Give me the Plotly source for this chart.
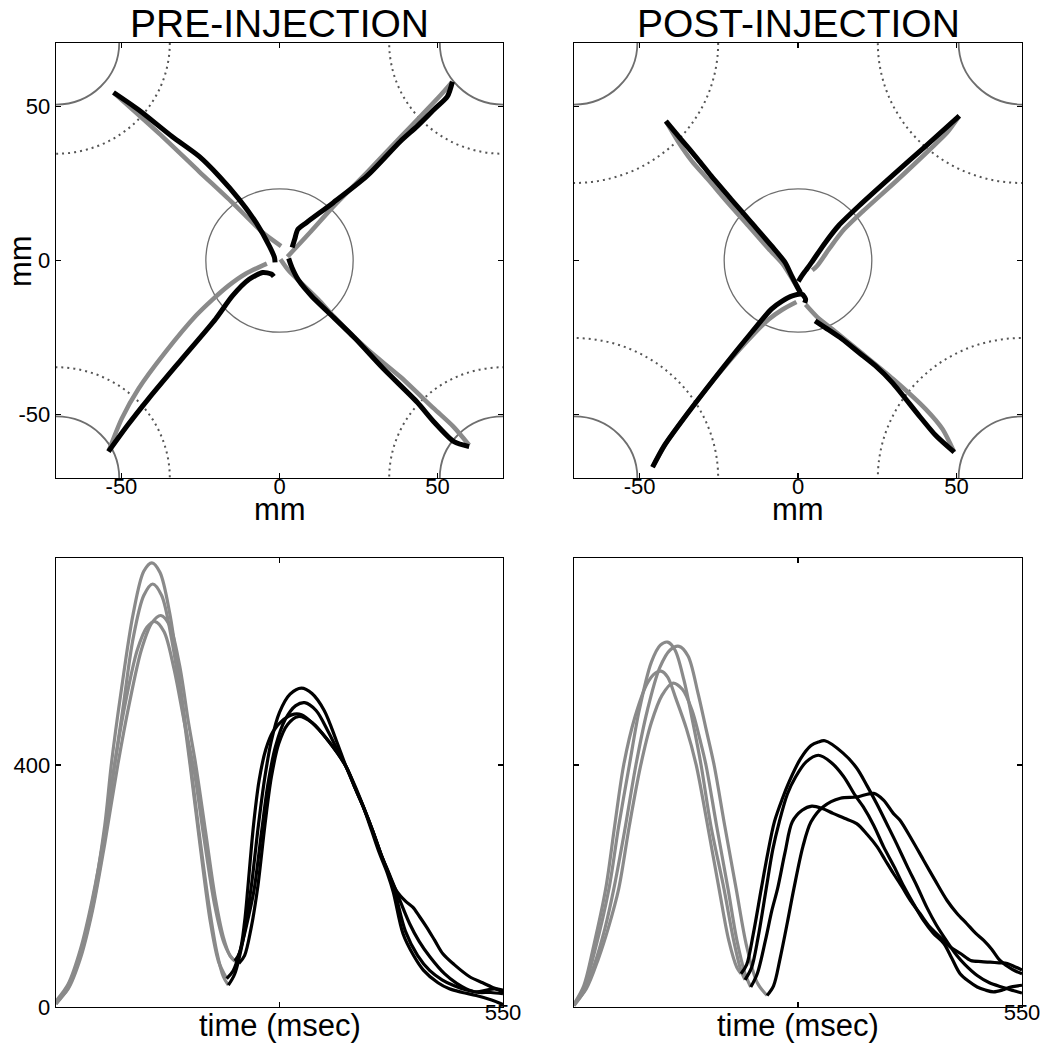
import plotly.graph_objects as go

PAGE_W, PAGE_H = 1050, 1049
OFF = 0   # body margin removed by post_script below
W, H = PAGE_W - 2 * OFF, PAGE_H - 2 * OFF
GRAY = "#8a8a8a"
BLACK = "#000000"
CIRC = "#6e6e6e"
FONT = "Liberation Sans, Arial, sans-serif"

# ---------------- target layout (mm) ----------------
LIM = 70.7
center_radius = 23.3
corner_x = [-70.7, 70.7, -70.7, 70.7]
corner_y = [70.7, 70.7, -70.7, -70.7]
target_radius = 20.0
dotted_radius_pre = 36.0
dotted_radius_post = 45.5

# ---------------- hand trajectories PRE (mm) ----------------
pre_gray_ul_x = [0.5, -5.3, -14.9, -25.5, -38.2, -52.5]
pre_gray_ul_y = [4.7, 9.1, 18.8, 29.0, 41.4, 54.6]
pre_black_ul_x = [-52.5, -44.6, -34.0, -25.5, -19.1, -12.7, -7.4, -3.2, -1.6, -1.4]
pre_black_ul_y = [54.6, 49.0, 40.3, 33.9, 27.4, 19.8, 12.3, 4.7, 1.0, -0.6]

pre_gray_ur_x = [2.5, 10.0, 17.0, 27.7, 38.0, 45.0, 51.0, 54.7]
pre_gray_ur_y = [1.2, 9.5, 17.5, 28.7, 39.8, 47.3, 53.8, 58.1]
pre_black_ur_x = [54.7, 53.1, 48.8, 43.5, 38.2, 27.6, 17.0, 8.5, 5.8, 4.8, 4.0]
pre_black_ur_y = [58.1, 53.3, 49.0, 43.6, 38.7, 27.4, 18.8, 12.3, 10.1, 6.9, 4.2]

pre_gray_lr_x = [0.3, 2.9, 7.1, 12.3, 17.0, 27.6, 38.2, 48.8, 55.0, 60.0]
pre_gray_lr_y = [0.4, -3.3, -7.5, -12.7, -18.0, -28.7, -37.8, -48.1, -54.0, -60.0]
pre_black_lr_x = [60.0, 55.2, 48.8, 43.5, 32.9, 23.8, 15.4, 10.2, 6.0, 3.9, 2.9]
pre_black_lr_y = [-60.5, -58.9, -52.4, -46.0, -35.2, -25.2, -16.8, -11.6, -6.4, -2.2, 0.7]

pre_gray_ll_x = [-4.0, -10.7, -15.9, -21.2, -26.4, -36.1, -44.6, -49.9, -54.1]
pre_gray_ll_y = [-1.0, -4.3, -8.0, -12.7, -17.9, -29.8, -41.7, -51.4, -62.1]
pre_black_ll_x = [-54.1, -48.0, -41.4, -30.8, -20.2, -14.9, -9.6, -5.3, -2.6, -1.8]
pre_black_ll_y = [-62.1, -53.5, -44.9, -31.9, -19.0, -11.5, -6.1, -3.9, -4.4, -5.2]

# ---------------- hand trajectories POST (mm) ----------------
post_gray_ul_x = [0.3, -1.6, -4.8, -9.3, -15.6, -22.0, -28.3, -33.5, -37.8, -41.7]
post_gray_ul_y = [-9.6, -6.4, -1.2, 3.8, 11.2, 18.6, 26.2, 32.3, 38.6, 45.3]
post_black_ul_x = [-41.7, -36.9, -31.6, -27.4, -21.1, -14.7, -8.4, -4.1, -2.0, -0.4, 0.8]
post_black_ul_y = [45.3, 39.4, 32.9, 27.5, 19.9, 12.3, 4.8, -0.6, -5.0, -8.2, -10.5]

post_gray_ur_x = [4.5, 6.0, 10.0, 14.3, 20.7, 31.2, 41.5, 47.0, 50.9]
post_gray_ur_y = [-3.2, -1.8, 4.0, 9.8, 16.2, 26.0, 36.0, 41.5, 47.0]
post_black_ur_x = [50.9, 40.3, 29.7, 19.2, 12.8, 8.6, 4.3, 2.4, 1.2, 0.1]
post_black_ur_y = [47.0, 37.2, 27.5, 17.7, 11.3, 5.8, -0.6, -3.3, -5.0, -6.8]

post_gray_ll_x = [-0.5, -5.0, -9.2, -13.4, -24.0, -34.0, -42.0, -45.9]
post_gray_ll_y = [-13.5, -16.0, -19.1, -23.3, -35.5, -48.5, -60.0, -67.2]
post_black_ll_x = [-45.9, -42.2, -33.8, -23.2, -14.7, -8.4, -5.0, -1.8, 1.3, 2.4, 2.1]
post_black_ll_y = [-67.2, -60.2, -48.3, -34.2, -23.4, -15.8, -13.2, -11.5, -11.0, -12.6, -13.8]

post_gray_lr_x = [2.4, 6.0, 10.7, 20.0, 30.0, 40.3, 45.6, 49.3]
post_gray_lr_y = [-14.3, -18.3, -22.2, -30.0, -38.5, -48.3, -54.8, -62.3]
post_black_lr_x = [49.3, 43.5, 38.2, 29.7, 24.4, 19.2, 13.9, 8.6, 5.4]
post_black_lr_y = [-62.3, -56.9, -50.4, -39.6, -34.2, -29.9, -25.5, -21.8, -19.6]

# ---------------- speed profiles PRE (time msec, speed) ----------------
pre_gray_a_t = [0, 15, 30, 45, 60, 68, 80, 95, 108, 118, 128, 140, 152, 162, 175, 188, 198, 206, 212]
pre_gray_a_v = [5, 35, 90, 175, 300, 400, 520, 650, 720, 734, 718, 650, 540, 440, 300, 170, 90, 50, 36]
pre_black_a_t = [212, 220, 230, 240, 249, 257, 265, 275, 288, 302, 315, 330, 345, 357, 368, 378, 388, 398, 408, 415, 427, 440, 452, 470, 484, 500, 517, 535, 550]
pre_black_a_v = [36, 55, 110, 196, 300, 380, 440, 487, 517, 527, 518, 490, 440, 397, 362, 331, 293, 254, 220, 190, 121, 85, 61, 40, 30, 24, 19, 12, 4]

pre_gray_b_t = [0, 15, 30, 45, 60, 70, 82, 95, 108, 119, 130, 142, 155, 165, 177, 190, 200, 210]
pre_gray_b_v = [5, 32, 85, 165, 280, 380, 490, 610, 680, 699, 680, 610, 500, 400, 270, 140, 75, 47]
pre_black_b_t = [210, 218, 228, 237, 244, 253, 261, 270, 282, 295, 306, 320, 335, 348, 357, 368, 378, 390, 400, 410, 419, 430, 439, 447, 456, 466, 476, 490, 509, 525, 542, 550]
pre_black_b_v = [47, 60, 100, 150, 196, 290, 370, 430, 475, 498, 503, 490, 455, 420, 397, 365, 332, 290, 252, 218, 192, 175, 165, 150, 132, 110, 88, 70, 50, 40, 30, 28]

pre_gray_c_t = [0, 15, 30, 45, 60, 76, 90, 105, 118, 129, 140, 152, 163, 172, 184, 196, 206, 214, 220]
pre_gray_c_v = [8, 30, 80, 160, 270, 400, 500, 590, 635, 647, 630, 565, 470, 400, 290, 180, 115, 85, 76]
pre_black_c_t = [220, 226, 232, 236, 243, 250, 258, 267, 280, 293, 302, 315, 335, 357, 368, 378, 390, 400, 410, 419, 435, 447, 460, 478, 493, 505, 517, 530, 540, 550]
pre_black_c_v = [76, 90, 140, 196, 300, 375, 425, 455, 475, 484, 483, 470, 440, 397, 362, 331, 290, 252, 220, 190, 138, 108, 83, 55, 39, 30, 25, 28, 30, 25]

pre_gray_d_t = [0, 15, 30, 45, 60, 72, 85, 100, 112, 122, 133, 145, 158, 170, 182, 195, 207, 217, 225]
pre_gray_d_v = [10, 38, 95, 180, 290, 400, 500, 590, 628, 637, 620, 560, 470, 390, 280, 170, 105, 80, 72]
pre_black_d_t = [225, 232, 240, 248, 257, 265, 274, 285, 298, 315, 335, 357, 368, 378, 390, 400, 410, 417, 430, 445, 460, 475, 490, 505, 520, 535, 550]
pre_black_d_v = [72, 85, 130, 196, 300, 380, 435, 467, 480, 470, 440, 397, 362, 331, 290, 252, 218, 190, 125, 85, 60, 45, 35, 28, 24, 24, 22]

# ---------------- speed profiles POST ----------------
post_gray_a_t = [0, 12, 24, 39, 50, 61, 75, 90, 100, 107, 115, 125, 138, 150, 164, 178, 190, 200, 205]
post_gray_a_v = [5, 35, 100, 196, 300, 400, 480, 535, 552, 555, 545, 510, 460, 400, 300, 196, 110, 65, 55]
post_black_a_t = [205, 212, 220, 230, 238, 246, 256, 265, 278, 291, 300, 308, 330, 347, 360, 372, 385, 396, 410, 421, 433, 445, 458, 470, 480, 495, 510, 525, 540, 550]
post_black_a_v = [55, 70, 120, 196, 255, 306, 345, 375, 410, 432, 438, 440, 420, 395, 365, 335, 300, 270, 230, 200, 165, 135, 108, 85, 70, 52, 40, 33, 27, 23]

post_gray_b_t = [0, 12, 25, 43, 55, 68, 80, 95, 106, 115, 124, 135, 146, 156, 168, 184, 196, 205, 210]
post_gray_b_v = [3, 30, 90, 196, 300, 400, 490, 570, 598, 603, 590, 540, 470, 400, 300, 196, 110, 60, 45]
post_black_b_t = [210, 218, 226, 236, 244, 252, 262, 272, 285, 300, 315, 331, 345, 355, 368, 380, 393, 405, 417, 429, 441, 454, 464, 474, 485, 495, 505, 515, 526, 536, 545, 550]
post_black_b_v = [45, 65, 115, 196, 260, 306, 352, 380, 405, 416, 405, 381, 350, 331, 300, 265, 232, 199, 170, 143, 122, 105, 80, 55, 42, 33, 28, 25, 28, 33, 35, 36]

post_gray_c_t = [0, 12, 25, 38, 49, 62, 76, 90, 105, 118, 129, 140, 152, 162, 172, 185, 199, 212, 225, 237]
post_gray_c_v = [2, 25, 70, 130, 196, 290, 400, 490, 560, 590, 596, 580, 520, 460, 400, 300, 196, 100, 40, 19]
post_black_c_t = [237, 245, 253, 262, 270, 281, 291, 306, 327, 347, 368, 380, 392, 400, 415, 429, 443, 458, 470, 482, 493, 503, 513, 523, 538, 550]
post_black_c_v = [19, 35, 80, 140, 196, 265, 306, 331, 345, 347, 353, 342, 320, 309, 276, 243, 210, 176, 155, 138, 122, 110, 95, 77, 62, 55]

post_gray_d_t = [0, 15, 30, 42, 55, 68, 82, 95, 108, 121, 133, 145, 155, 162, 175, 189, 200, 210, 217]
post_gray_d_v = [5, 30, 80, 130, 196, 300, 400, 470, 515, 535, 525, 490, 440, 400, 300, 196, 110, 55, 33]
post_black_d_t = [217, 225, 235, 243, 250, 259, 268, 280, 292, 305, 318, 332, 347, 360, 372, 382, 392, 403, 413, 425, 437, 450, 462, 475, 487, 500, 511, 522, 532, 542, 550]
post_black_d_v = [33, 55, 110, 160, 196, 255, 306, 325, 332, 328, 320, 312, 303, 285, 265, 243, 221, 198, 176, 154, 132, 115, 99, 88, 77, 75, 74, 73, 72, 66, 61]

# ---------------- text ----------------
titles = ["PRE-INJECTION", "POST-INJECTION"]
xy_ticks = [-50, 0, 50]
xy_ticktext = ["-50", "0", "50"]
speed_yticks = [0, 400]
time_xticks = [0, 275, 550]
time_xticktext = ["", "", "550"]

fig = go.Figure()

def line(x, y, color, width, xa, ya, smooth=0.7):
    fig.add_trace(go.Scatter(x=x, y=y, mode="lines", xaxis=xa, yaxis=ya,
                             line=dict(color=color, width=width, shape="spline", smoothing=smooth),
                             hoverinfo="skip", showlegend=False))

pre_gray = [(pre_gray_ul_x, pre_gray_ul_y), (pre_gray_ur_x, pre_gray_ur_y),
            (pre_gray_lr_x, pre_gray_lr_y), (pre_gray_ll_x, pre_gray_ll_y)]
pre_black = [(pre_black_ul_x, pre_black_ul_y), (pre_black_ur_x, pre_black_ur_y),
             (pre_black_lr_x, pre_black_lr_y), (pre_black_ll_x, pre_black_ll_y)]
post_gray = [(post_gray_ul_x, post_gray_ul_y), (post_gray_ur_x, post_gray_ur_y),
             (post_gray_lr_x, post_gray_lr_y), (post_gray_ll_x, post_gray_ll_y)]
post_black = [(post_black_ul_x, post_black_ul_y), (post_black_ur_x, post_black_ur_y),
              (post_black_lr_x, post_black_lr_y), (post_black_ll_x, post_black_ll_y)]

for x, y in pre_gray:
    line(x, y, GRAY, 4.5, "x", "y")
for x, y in pre_black:
    line(x, y, BLACK, 5, "x", "y")
for x, y in post_gray:
    line(x, y, GRAY, 4.5, "x2", "y2")
for x, y in post_black:
    line(x, y, BLACK, 5, "x2", "y2")

pre_speed = [(pre_gray_a_t, pre_gray_a_v, pre_black_a_t, pre_black_a_v),
             (pre_gray_b_t, pre_gray_b_v, pre_black_b_t, pre_black_b_v),
             (pre_gray_c_t, pre_gray_c_v, pre_black_c_t, pre_black_c_v),
             (pre_gray_d_t, pre_gray_d_v, pre_black_d_t, pre_black_d_v)]
post_speed = [(post_gray_a_t, post_gray_a_v, post_black_a_t, post_black_a_v),
              (post_gray_b_t, post_gray_b_v, post_black_b_t, post_black_b_v),
              (post_gray_c_t, post_gray_c_v, post_black_c_t, post_black_c_v),
              (post_gray_d_t, post_gray_d_v, post_black_d_t, post_black_d_v)]
for gt, gv, bt, bv in pre_speed:
    line(gt, gv, GRAY, 3.2, "x3", "y3", 0.9)
for gt, gv, bt, bv in pre_speed:
    line(bt, bv, BLACK, 3.2, "x3", "y3", 0.9)
for gt, gv, bt, bv in post_speed:
    line(gt, gv, GRAY, 3.2, "x4", "y4", 0.9)
for gt, gv, bt, bv in post_speed:
    line(bt, bv, BLACK, 3.2, "x4", "y4", 0.9)

# circles
shapes = []
for xa, ya, dr in (("x", "y", dotted_radius_pre), ("x2", "y2", dotted_radius_post)):
    shapes.append(dict(type="circle", xref=xa, yref=ya, layer="below",
                       x0=-center_radius, x1=center_radius, y0=-center_radius, y1=center_radius,
                       line=dict(color=CIRC, width=1.3)))
    for cx, cy in zip(corner_x, corner_y):
        shapes.append(dict(type="circle", xref=xa, yref=ya, layer="below",
                           x0=cx - target_radius, x1=cx + target_radius,
                           y0=cy - target_radius, y1=cy + target_radius,
                           line=dict(color=CIRC, width=1.8)))
        shapes.append(dict(type="circle", xref=xa, yref=ya, layer="below",
                           x0=cx - dr, x1=cx + dr, y0=cy - dr, y1=cy + dr,
                           line=dict(color="#555555", width=2, dash="2px,4px")))

def px2fx(px):
    return (px - OFF) / W

def py2fy(py):
    return 1 - (py - OFF) / H

axis_common = dict(showline=True, linecolor="black", linewidth=1.3, mirror="ticks",
                   ticks="inside", ticklen=5, tickwidth=1.2, tickcolor="black",
                   showgrid=False, zeroline=False,
                   tickfont=dict(family=FONT, size=22, color="black"))

dom_x_left = [px2fx(56), px2fx(503)]
dom_x_right = [px2fx(574), px2fx(1022)]
dom_y_top = [py2fy(478), py2fy(43)]
dom_y_bot = [py2fy(1007), py2fy(558)]

fig.update_layout(
    width=W, height=H, paper_bgcolor="white", plot_bgcolor="white",
    margin=dict(l=0, r=0, t=0, b=0, autoexpand=False), showlegend=False,
    shapes=shapes,
    xaxis=dict(domain=dom_x_left, anchor="y", range=[-LIM, LIM], tickvals=xy_ticks,
               ticktext=xy_ticktext, ticklabelstandoff=-12, **axis_common),
    yaxis=dict(domain=dom_y_top, anchor="x", range=[-LIM, LIM], tickvals=xy_ticks,
               ticktext=xy_ticktext, **axis_common),
    xaxis2=dict(domain=dom_x_right, anchor="y2", range=[-LIM, LIM], tickvals=xy_ticks,
                ticktext=xy_ticktext, ticklabelstandoff=-12, **axis_common),
    yaxis2=dict(domain=dom_y_top, anchor="x2", range=[-LIM, LIM], tickvals=xy_ticks,
                showticklabels=False, **axis_common),
    xaxis3=dict(domain=dom_x_left, anchor="y3", range=[0, 550], tickvals=time_xticks,
                ticktext=time_xticktext, ticklabelstandoff=-15, **axis_common),
    yaxis3=dict(domain=dom_y_bot, anchor="x3", range=[0, 742], tickvals=speed_yticks,
                **axis_common),
    xaxis4=dict(domain=dom_x_right, anchor="y4", range=[0, 550], tickvals=time_xticks,
                ticktext=time_xticktext, ticklabelstandoff=-15, **axis_common),
    yaxis4=dict(domain=dom_y_bot, anchor="x4", range=[0, 742], tickvals=speed_yticks,
                showticklabels=False, **axis_common),
)

ann = []
def text(s, px, py, size, angle=0, yanchor="middle"):
    ann.append(dict(text=s, x=px2fx(px), y=py2fy(py), xref="paper", yref="paper",
                    xanchor="center", yanchor=yanchor, showarrow=False, textangle=angle,
                    font=dict(family=FONT, size=size, color="black")))

text(titles[0], 279.5, 0, 39, yanchor="top")
text(titles[1], 798, 0, 39, yanchor="top")
text("mm", 279.5, 509, 31)
text("mm", 798, 509, 31)
text("mm", 21, 261, 31, -90)
text("time (msec)", 279.5, 1025, 31)
text("time (msec)", 798, 1025, 31)
fig.update_layout(annotations=ann)

fig.write_html("out.html",
               config={"displayModeBar": False, "staticPlot": True},
               post_script="document.body.style.margin='0';document.body.style.padding='0';")
